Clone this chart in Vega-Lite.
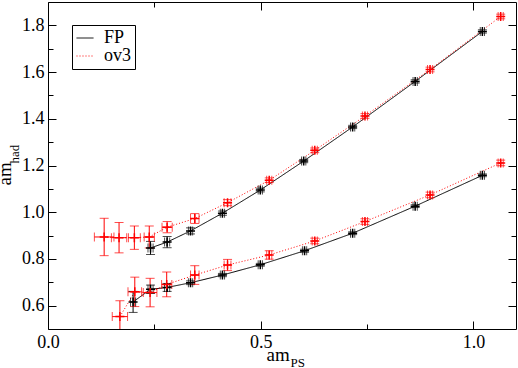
{
  "$schema": "https://vega.github.io/schema/vega-lite/v6.json",
  "width": 468,
  "height": 327,
  "autosize": {"type": "none"},
  "padding": {"left": 48, "top": 2, "right": 2, "bottom": 39},
  "background": "white",
  "config": {
    "view": {"stroke": "black", "strokeWidth": 1},
    "axis": {"grid": false, "domain": false, "labelFont": "Liberation Serif, Times New Roman, serif", "titleFont": "Liberation Serif, Times New Roman, serif", "labelColor": "black", "titleColor": "black", "titleFontWeight": "normal", "tickColor": "black", "labelFlush": false, "labelOverlap": false}
  },
  "data": {
    "values": [
      {"s": "FP", "b": "u", "x": 0.241, "y": 0.847, "xlo": 0.235, "xhi": 0.247, "ylo": 0.819, "yhi": 0.875},
      {"s": "FP", "b": "u", "x": 0.280, "y": 0.872, "xlo": 0.274, "xhi": 0.286, "ylo": 0.848, "yhi": 0.896},
      {"s": "FP", "b": "u", "x": 0.335, "y": 0.920, "xlo": 0.330, "xhi": 0.340, "ylo": 0.907, "yhi": 0.933},
      {"s": "FP", "b": "u", "x": 0.410, "y": 0.996, "xlo": 0.405, "xhi": 0.415, "ylo": 0.987, "yhi": 1.005},
      {"s": "FP", "b": "u", "x": 0.499, "y": 1.095, "xlo": 0.494, "xhi": 0.504, "ylo": 1.087, "yhi": 1.103},
      {"s": "FP", "b": "u", "x": 0.601, "y": 1.219, "xlo": 0.596, "xhi": 0.606, "ylo": 1.212, "yhi": 1.226},
      {"s": "FP", "b": "u", "x": 0.716, "y": 1.365, "xlo": 0.711, "xhi": 0.721, "ylo": 1.358, "yhi": 1.372},
      {"s": "FP", "b": "u", "x": 0.863, "y": 1.560, "xlo": 0.858, "xhi": 0.868, "ylo": 1.553, "yhi": 1.567},
      {"s": "FP", "b": "u", "x": 1.021, "y": 1.774, "xlo": 1.016, "xhi": 1.026, "ylo": 1.767, "yhi": 1.781},
      {"s": "FP", "b": "l", "x": 0.200, "y": 0.616, "xlo": 0.194, "xhi": 0.206, "ylo": 0.571, "yhi": 0.661},
      {"s": "FP", "b": "l", "x": 0.241, "y": 0.670, "xlo": 0.235, "xhi": 0.247, "ylo": 0.652, "yhi": 0.688},
      {"s": "FP", "b": "l", "x": 0.280, "y": 0.678, "xlo": 0.274, "xhi": 0.286, "ylo": 0.661, "yhi": 0.695},
      {"s": "FP", "b": "l", "x": 0.335, "y": 0.698, "xlo": 0.330, "xhi": 0.340, "ylo": 0.690, "yhi": 0.706},
      {"s": "FP", "b": "l", "x": 0.410, "y": 0.731, "xlo": 0.405, "xhi": 0.415, "ylo": 0.724, "yhi": 0.738},
      {"s": "FP", "b": "l", "x": 0.499, "y": 0.775, "xlo": 0.494, "xhi": 0.504, "ylo": 0.769, "yhi": 0.781},
      {"s": "FP", "b": "l", "x": 0.603, "y": 0.835, "xlo": 0.598, "xhi": 0.608, "ylo": 0.829, "yhi": 0.841},
      {"s": "FP", "b": "l", "x": 0.716, "y": 0.910, "xlo": 0.711, "xhi": 0.721, "ylo": 0.904, "yhi": 0.916},
      {"s": "FP", "b": "l", "x": 0.863, "y": 1.026, "xlo": 0.858, "xhi": 0.868, "ylo": 1.020, "yhi": 1.032},
      {"s": "FP", "b": "l", "x": 1.021, "y": 1.158, "xlo": 1.016, "xhi": 1.026, "ylo": 1.152, "yhi": 1.164},
      {"s": "ov3", "b": "u", "x": 0.132, "y": 0.894, "xlo": 0.109, "xhi": 0.155, "ylo": 0.814, "yhi": 0.974},
      {"s": "ov3", "b": "u", "x": 0.167, "y": 0.891, "xlo": 0.149, "xhi": 0.185, "ylo": 0.826, "yhi": 0.956},
      {"s": "ov3", "b": "u", "x": 0.203, "y": 0.891, "xlo": 0.189, "xhi": 0.217, "ylo": 0.841, "yhi": 0.941},
      {"s": "ov3", "b": "u", "x": 0.238, "y": 0.894, "xlo": 0.226, "xhi": 0.250, "ylo": 0.847, "yhi": 0.941},
      {"s": "ov3", "b": "u", "x": 0.280, "y": 0.936, "xlo": 0.268, "xhi": 0.292, "ylo": 0.912, "yhi": 0.960},
      {"s": "ov3", "b": "u", "x": 0.345, "y": 0.973, "xlo": 0.335, "xhi": 0.355, "ylo": 0.952, "yhi": 0.994},
      {"s": "ov3", "b": "u", "x": 0.422, "y": 1.041, "xlo": 0.414, "xhi": 0.430, "ylo": 1.028, "yhi": 1.054},
      {"s": "ov3", "b": "u", "x": 0.520, "y": 1.137, "xlo": 0.514, "xhi": 0.526, "ylo": 1.127, "yhi": 1.147},
      {"s": "ov3", "b": "u", "x": 0.627, "y": 1.265, "xlo": 0.621, "xhi": 0.633, "ylo": 1.255, "yhi": 1.275},
      {"s": "ov3", "b": "u", "x": 0.745, "y": 1.412, "xlo": 0.739, "xhi": 0.751, "ylo": 1.402, "yhi": 1.422},
      {"s": "ov3", "b": "u", "x": 0.898, "y": 1.611, "xlo": 0.892, "xhi": 0.904, "ylo": 1.601, "yhi": 1.621},
      {"s": "ov3", "b": "u", "x": 1.064, "y": 1.838, "xlo": 1.058, "xhi": 1.070, "ylo": 1.828, "yhi": 1.848},
      {"s": "ov3", "b": "l", "x": 0.169, "y": 0.553, "xlo": 0.151, "xhi": 0.187, "ylo": 0.485, "yhi": 0.621},
      {"s": "ov3", "b": "l", "x": 0.204, "y": 0.659, "xlo": 0.188, "xhi": 0.220, "ylo": 0.596, "yhi": 0.722},
      {"s": "ov3", "b": "l", "x": 0.240, "y": 0.656, "xlo": 0.224, "xhi": 0.256, "ylo": 0.595, "yhi": 0.717},
      {"s": "ov3", "b": "l", "x": 0.279, "y": 0.691, "xlo": 0.267, "xhi": 0.291, "ylo": 0.638, "yhi": 0.744},
      {"s": "ov3", "b": "l", "x": 0.345, "y": 0.731, "xlo": 0.335, "xhi": 0.355, "ylo": 0.691, "yhi": 0.771},
      {"s": "ov3", "b": "l", "x": 0.422, "y": 0.774, "xlo": 0.414, "xhi": 0.430, "ylo": 0.750, "yhi": 0.798},
      {"s": "ov3", "b": "l", "x": 0.520, "y": 0.817, "xlo": 0.514, "xhi": 0.526, "ylo": 0.799, "yhi": 0.835},
      {"s": "ov3", "b": "l", "x": 0.627, "y": 0.877, "xlo": 0.621, "xhi": 0.633, "ylo": 0.865, "yhi": 0.889},
      {"s": "ov3", "b": "l", "x": 0.745, "y": 0.960, "xlo": 0.739, "xhi": 0.751, "ylo": 0.948, "yhi": 0.972},
      {"s": "ov3", "b": "l", "x": 0.898, "y": 1.074, "xlo": 0.892, "xhi": 0.904, "ylo": 1.062, "yhi": 1.086},
      {"s": "ov3", "b": "l", "x": 1.064, "y": 1.211, "xlo": 1.058, "xhi": 1.070, "ylo": 1.199, "yhi": 1.223}
    ]
  },
  "resolve": {"axis": {"x": "independent", "y": "independent"}},
  "layer": [
    {
      "mark": {"type": "line", "strokeWidth": 1, "clip": true},
      "encoding": {
        "x": {"field": "x", "type": "quantitative", "scale": {"domain": [0, 1.1], "nice": false, "zero": false},
              "axis": {"orient": "bottom", "values": [0, 0.5, 1.0], "format": ".1f", "ticks": false, "labelFontSize": 18, "labelPadding": 4, "title": "am", "titleFontSize": 19, "titleX": 218, "titleY": 31, "titleAlign": "left", "titleBaseline": "alphabetic", "titleAngle": 0}},
        "y": {"field": "y", "type": "quantitative", "scale": {"domain": [0.5, 1.9], "nice": false, "zero": false},
              "axis": {"orient": "left", "values": [0.6, 0.8, 1.0, 1.2, 1.4, 1.6, 1.8], "format": ".1f", "ticks": false, "labelFontSize": 18, "labelPadding": 4, "title": "am", "titleFontSize": 19, "titleX": -38, "titleY": 183, "titleAlign": "left", "titleBaseline": "alphabetic", "titleAngle": 270}},
        "color": {"field": "s", "type": "nominal", "scale": {"domain": ["FP", "ov3"], "range": ["black", "red"]},
                  "legend": {"title": null, "orient": "none", "legendX": 24, "legendY": 23, "padding": 4, "strokeColor": "black", "fillColor": "white", "cornerRadius": 0, "labelFont": "Liberation Serif, Times New Roman, serif", "labelFontSize": 18, "labelColor": "black", "symbolType": "stroke", "symbolSize": 289, "symbolStrokeWidth": 1, "labelOffset": 10, "rowPadding": -1}},
        "strokeDash": {"field": "s", "type": "nominal", "scale": {"domain": ["FP", "ov3"], "range": [[1, 0], [1, 2]]},
                  "legend": {"title": null, "orient": "none", "legendX": 24, "legendY": 23, "padding": 4, "strokeColor": "black", "fillColor": "white", "cornerRadius": 0, "labelFont": "Liberation Serif, Times New Roman, serif", "labelFontSize": 18, "labelColor": "black", "symbolType": "stroke", "symbolSize": 289, "symbolStrokeWidth": 1, "labelOffset": 10, "rowPadding": -1}},
        "detail": {"field": "b", "type": "nominal"}
      }
    },
    {
      "mark": {"type": "rule", "strokeWidth": 1, "clip": true},
      "encoding": {
        "x": {"field": "x", "type": "quantitative", "axis": {"orient": "bottom", "values": [0, 0.5, 1.0], "tickSize": -8, "labels": false, "title": null}},
        "y": {"field": "ylo", "type": "quantitative", "axis": {"orient": "left", "values": [0.6, 0.8, 1.0, 1.2, 1.4, 1.6, 1.8], "tickSize": -8, "labels": false, "title": null}},
        "y2": {"field": "yhi"},
        "color": {"field": "s", "type": "nominal", "legend": null}
      }
    },
    {
      "mark": {"type": "rule", "strokeWidth": 1, "clip": true},
      "encoding": {
        "x": {"field": "xlo", "type": "quantitative", "axis": {"orient": "bottom", "values": [0.25, 0.75], "tickSize": -5, "labels": false, "title": null}},
        "x2": {"field": "xhi"},
        "y": {"field": "y", "type": "quantitative", "axis": {"orient": "left", "values": [0.7, 0.9, 1.1, 1.3, 1.5, 1.7], "tickSize": -5, "labels": false, "title": null}},
        "color": {"field": "s", "type": "nominal", "legend": null}
      }
    },
    {
      "mark": {"type": "tick", "orient": "horizontal", "size": 9, "thickness": 1, "clip": true},
      "encoding": {
        "x": {"field": "x", "type": "quantitative", "axis": {"orient": "top", "values": [0, 0.5, 1.0], "tickSize": -8, "labels": false, "title": null}},
        "y": {"field": "ylo", "type": "quantitative", "axis": {"orient": "right", "values": [0.6, 0.8, 1.0, 1.2, 1.4, 1.6, 1.8], "tickSize": -8, "labels": false, "title": null}},
        "color": {"field": "s", "type": "nominal", "legend": null}
      }
    },
    {
      "mark": {"type": "tick", "orient": "horizontal", "size": 9, "thickness": 1, "clip": true},
      "encoding": {
        "x": {"field": "x", "type": "quantitative", "axis": {"orient": "top", "values": [0.25, 0.75], "tickSize": -5, "labels": false, "title": null}},
        "y": {"field": "yhi", "type": "quantitative", "axis": {"orient": "right", "values": [0.7, 0.9, 1.1, 1.3, 1.5, 1.7], "tickSize": -5, "labels": false, "title": null}},
        "color": {"field": "s", "type": "nominal", "legend": null}
      }
    },
    {
      "mark": {"type": "tick", "orient": "vertical", "size": 9, "thickness": 1, "clip": true},
      "encoding": {
        "x": {"field": "xlo", "type": "quantitative", "axis": {"orient": "bottom", "ticks": false, "labels": false, "title": "PS", "titleFontSize": 13, "titleX": 242, "titleY": 37, "titleAlign": "left", "titleBaseline": "alphabetic", "titleAngle": 0}},
        "y": {"field": "y", "type": "quantitative", "axis": {"orient": "left", "ticks": false, "labels": false, "title": "had", "titleFontSize": 13, "titleX": -30, "titleY": 161, "titleAlign": "left", "titleBaseline": "alphabetic", "titleAngle": 270}},
        "color": {"field": "s", "type": "nominal", "legend": null}
      }
    },
    {
      "mark": {"type": "tick", "orient": "vertical", "size": 9, "thickness": 1, "clip": true},
      "encoding": {
        "x": {"field": "xhi", "type": "quantitative", "axis": null},
        "y": {"field": "y", "type": "quantitative", "axis": null},
        "color": {"field": "s", "type": "nominal", "legend": null}
      }
    },
    {
      "mark": {"type": "point", "shape": "M-1,0H1M0,-1V1", "size": 81, "filled": false, "strokeWidth": 1.5, "opacity": 1, "clip": true},
      "encoding": {
        "x": {"field": "x", "type": "quantitative", "axis": null},
        "y": {"field": "y", "type": "quantitative", "axis": null},
        "color": {"field": "s", "type": "nominal", "legend": null}
      }
    }
  ]
}
